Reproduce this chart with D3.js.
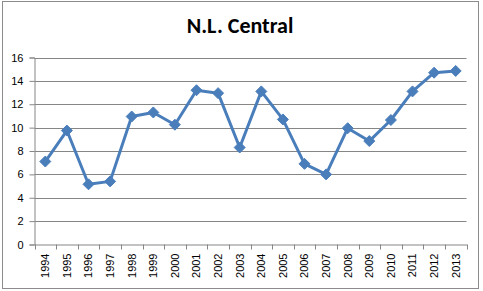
<!DOCTYPE html>
<html>
<head>
<meta charset="utf-8">
<script src="https://cdn.jsdelivr.net/npm/d3@7"></script>
<style>
  body { margin: 0; background: #fff; }
  svg { display: block; }
</style>
</head>
<body>
<div id="chart"></div>
<script>
var years = ["1994","1995","1996","1997","1998","1999","2000","2001","2002","2003",
             "2004","2005","2006","2007","2008","2009","2010","2011","2012","2013"];
var values = [7.1, 9.75, 5.15, 5.4, 10.95, 11.3, 10.25, 13.2, 12.95, 8.3,
              13.1, 10.7, 6.9, 6.0, 9.95, 8.85, 10.65, 13.1, 14.7, 14.85];
var yTicks = [0, 2, 4, 6, 8, 10, 12, 14, 16];

var width = 483,
    height = 291;

var svg = d3.select("#chart").append("svg")
    .attr("width", width)
    .attr("height", height);

// outer chart border
svg.append("rect")
  .attr("x", 2.5).attr("y", 1.5)
  .attr("width", 476).attr("height", 287)
  .attr("fill", "#fff")
  .attr("stroke", "#8c8c8c")
  .attr("stroke-width", 1);

svg.append("text")
  .attr("x", 240)
  .attr("y", 33)
  .attr("text-anchor", "middle")
  .style("font-family", "Carlito, 'Open Sans', 'Liberation Sans', Arial, sans-serif")
  .style("font-weight", "bold")
  .style("font-size", "22px")
  .text("N.L. Central");

var x = d3.scaleBand()
    .domain(years)
    .range([34.5, 466.5]);

var y = d3.scaleLinear()
    .domain([0, 16])
    .range([244.5, 57.5]);

// gridlines
svg.append("g")
  .selectAll("line")
  .data(yTicks.filter(function(d) { return d > 0; }))
  .join("line")
    .attr("x1", 34.5).attr("x2", 466.5)
    .attr("y1", function(d) { return Math.round(y(d)) + 0.5; })
    .attr("y2", function(d) { return Math.round(y(d)) + 0.5; })
    .attr("stroke", "#868686");

var yAxis = svg.append("g")
    .attr("transform", "translate(34.5,0)")
    .call(d3.axisLeft(y).tickValues(yTicks).tickSize(5).tickPadding(6));

var xAxis = svg.append("g")
    .attr("transform", "translate(0,244.5)")
    .call(d3.axisBottom(x).tickSize(0).tickPadding(0));

// tick marks between categories
var bounds = years.map(function(d) { return x(d); }).concat([x.range()[1]]);
xAxis.selectAll(".sep")
  .data(bounds)
  .join("line")
    .attr("class", "sep")
    .attr("x1", function(d) { return Math.round(d) + 0.5; })
    .attr("x2", function(d) { return Math.round(d) + 0.5; })
    .attr("y1", 0).attr("y2", 5)
    .attr("stroke", "#868686");

xAxis.selectAll(".tick text")
  .attr("transform", "rotate(-90)")
  .attr("text-anchor", "end")
  .attr("x", -9)
  .attr("y", 0)
  .attr("dy", "0.35em");

[xAxis, yAxis].forEach(function(g) {
  g.select(".domain").attr("stroke", "#868686");
  g.selectAll(".tick line").attr("stroke", "#868686");
  g.selectAll("text")
    .style("font-family", "'Liberation Sans', Arial, sans-serif")
    .style("font-size", "11px")
    .attr("fill", "#000");
});

var pts = years.map(function(d, i) { return {year: d, value: values[i]}; });

var line = d3.line()
    .x(function(d) { return x(d.year) + x.bandwidth() / 2; })
    .y(function(d) { return y(d.value); });

svg.append("path")
  .attr("d", line(pts))
  .attr("fill", "none")
  .attr("stroke", "#4a7ebb")
  .attr("stroke-width", 3)
  .attr("stroke-linejoin", "round");

svg.append("g")
  .selectAll("path")
  .data(pts)
  .join("path")
    .attr("transform", function(d) {
      return "translate(" + (x(d.year) + x.bandwidth() / 2) + "," + y(d.value) + ")";
    })
    .attr("d", "M0,-5.5L5.5,0L0,5.5L-5.5,0Z")
    .attr("fill", "#4a7ebb")
    .attr("stroke", "#4a7ebb")
    .attr("stroke-width", 1);
</script>
</body>
</html>
